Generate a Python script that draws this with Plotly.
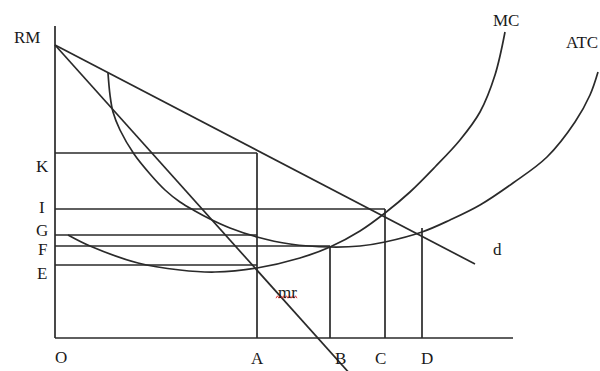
import plotly.graph_objects as go

# Monopoly short-run equilibrium: demand d, marginal revenue mr,
# marginal cost MC and average total cost ATC. Units: quantity (x), price (y).

# Demand (average revenue) line, from the price intercept RM
demand_q = [0, 420]
demand_p = [293, 74]

# Marginal revenue line, twice as steep as demand
mr_q = [0, 296]
mr_p = [293, -37]

# Marginal cost curve
mc_q = [13, 35, 83, 125, 160, 202, 245, 275, 305, 330, 355, 380, 405, 425, 440, 450]
mc_p = [103, 92, 75, 68, 66, 70, 80, 91, 107, 125, 146, 171, 198, 226, 263, 306]

# Average total cost curve
atc_q = [53, 55, 58, 65, 79, 95, 110, 125, 140, 155, 175, 202, 235, 275, 305, 330,
         367, 395, 425, 458, 492, 520, 535, 543]
atc_p = [265, 243, 226, 208, 184, 164, 148, 136, 127, 119, 110, 101, 94, 91, 92, 96,
         106, 118, 133, 155, 181, 216, 243, 266]

# Price levels marked on the vertical axis
price_labels = ["K", "I", "G", "F", "E"]
price_levels = [185, 129, 103, 92, 73]
price_ends = [202, 330, 202, 275, 202]      # quantity where each guide stops

# Quantities marked on the horizontal axis
qty_labels = ["A", "B", "C", "D"]
qty_levels = [202, 275, 330, 367]
qty_tops = [185, 92, 129, 110]              # price where each guide stops

q_axis_max = 458
p_axis_max = 312

LINE = dict(color="#2a2a2a", width=1.7)
FONT = dict(family="Liberation Serif, Times New Roman, serif", size=17, color="#1a1a1a")

fig = go.Figure()


def seg(xs, ys, shape="linear", line=None):
    fig.add_trace(go.Scatter(x=xs, y=ys, mode="lines",
                             line=dict(**(line or LINE), shape=shape),
                             hoverinfo="skip", showlegend=False))


# axes
seg([0, 0], [p_axis_max, 0])
seg([0, q_axis_max], [0, 0])

# guide lines for prices and quantities
for lvl, end in zip(price_levels, price_ends):
    seg([0, end], [lvl, lvl])
for q, top in zip(qty_levels, qty_tops):
    seg([q, q], [0, top])

# curves
seg(demand_q, demand_p)
seg(mr_q, mr_p)
seg(mc_q, mc_p, "spline")
seg(atc_q, atc_p, "spline")

ann = []


def label(text, x, y, xshift=0, yshift=0, xanchor="center"):
    ann.append(dict(text=text, x=x, y=y, xref="x", yref="y", showarrow=False,
                    xshift=xshift, yshift=yshift, xanchor=xanchor, yanchor="middle",
                    font=FONT))


label("RM", 0, demand_p[0], xshift=-28, yshift=8)
label("O", 0, 0, xshift=6, yshift=-19)

price_shift = [-13, 1.5, 4.5, -3, -8.5]
for t, lvl, sh in zip(price_labels, price_levels, price_shift):
    label(t, 0, lvl, xshift=-13, yshift=sh)

qty_shift = [0, 10, -5, 5]
for t, q, sh in zip(qty_labels, qty_levels, qty_shift):
    label(t, q, 0, xshift=sh, yshift=-20)

# "mr" label with the word processor's wavy spell-check underline
mr_lx, mr_ly = 232, 46
label("mr", mr_lx, mr_ly)
wave_x = [mr_lx - 11 + 1.5 * i for i in range(15)]
wave_y = [mr_ly - 5 + (1.2 if i % 2 else -1.2) for i in range(15)]
seg(wave_x, wave_y, line=dict(color="#e23a3a", width=1))

label("d", demand_q[1], demand_p[1], xshift=22, yshift=15)
label("MC", mc_q[-1], mc_p[-1], xshift=1, yshift=12)
label("ATC", atc_q[-1], atc_p[-1], xshift=-34, yshift=30, xanchor="left")

fig.update_layout(
    width=600, height=371,
    margin=dict(l=0, r=0, t=0, b=0),
    paper_bgcolor="white", plot_bgcolor="white",
    xaxis=dict(range=[-55, 545], visible=False, fixedrange=True),
    yaxis=dict(range=[-33, 338], visible=False, fixedrange=True),
    annotations=ann,
)

fig.write_html("out.html")
